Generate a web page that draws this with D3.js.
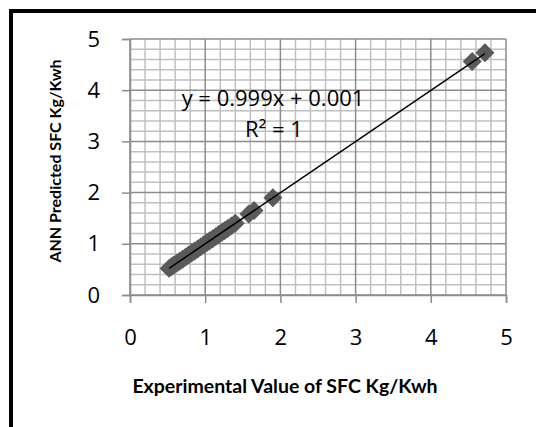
<!DOCTYPE html>
<html>
<head>
<meta charset="utf-8">
<script src="https://cdn.jsdelivr.net/npm/d3@7"></script>
<style>
body { margin: 0; background: #fff; }
</style>
</head>
<body>
<div id="chart"></div>
<script>
// data
var experimental = [0.52, 0.55, 0.58, 0.62, 0.66, 0.70, 0.74, 0.78, 0.82, 0.86, 0.90, 0.94, 0.98, 1.02, 1.06, 1.10, 1.14, 1.18, 1.22, 1.26, 1.30, 1.35, 1.40, 1.58, 1.65, 1.90, 4.55, 4.72];
var predicted    = [0.52, 0.55, 0.58, 0.62, 0.66, 0.70, 0.74, 0.78, 0.82, 0.86, 0.90, 0.94, 0.98, 1.02, 1.06, 1.10, 1.14, 1.18, 1.22, 1.26, 1.30, 1.35, 1.40, 1.58, 1.65, 1.90, 4.56, 4.73];
var xTicks = [0, 1, 2, 3, 4, 5];
var yTicks = [0, 1, 2, 3, 4, 5];
var slope = 0.999;
var intercept = 0.001;

var width = 536;
var height = 427;

var svg = d3.select("#chart")
    .append("svg")
    .attr("width", width)
    .attr("height", height);

// outer frame (only top and left edges visible)
svg.append("rect")
    .attr("x", 11)
    .attr("y", 11)
    .attr("width", 700)
    .attr("height", 700)
    .attr("fill", "none")
    .attr("stroke", "#000")
    .attr("stroke-width", 4);

var x = d3.scaleLinear().domain([0, 5]).range([130, 506]);
var y = d3.scaleLinear().domain([0, 5]).range([295, 39]);

var minor = d3.range(0, 5.01, 0.2).map(function (d) { return Math.round(d * 10) / 10; });

// minor grid
var grid = svg.append("g");
grid.selectAll(".vminor")
    .data(minor.filter(function (d) { return d % 1 != 0; }))
    .enter()
    .append("line")
    .attr("x1", function (d) { return x(d); })
    .attr("x2", function (d) { return x(d); })
    .attr("y1", y(0))
    .attr("y2", y(5))
    .attr("stroke", "#c0c0c0")
    .attr("stroke-width", 1.5);
grid.selectAll(".hminor")
    .data(minor.filter(function (d) { return d % 1 != 0; }))
    .enter()
    .append("line")
    .attr("y1", function (d) { return y(d); })
    .attr("y2", function (d) { return y(d); })
    .attr("x1", x(0))
    .attr("x2", x(5))
    .attr("stroke", "#c0c0c0")
    .attr("stroke-width", 1.5);

// major grid
grid.selectAll(".vmajor")
    .data(xTicks)
    .enter()
    .append("line")
    .attr("x1", function (d) { return x(d); })
    .attr("x2", function (d) { return x(d); })
    .attr("y1", y(0))
    .attr("y2", y(5))
    .attr("stroke", "#8c8c8c")
    .attr("stroke-width", 1.5);
grid.selectAll(".hmajor")
    .data(yTicks)
    .enter()
    .append("line")
    .attr("y1", function (d) { return y(d); })
    .attr("y2", function (d) { return y(d); })
    .attr("x1", x(0))
    .attr("x2", x(5))
    .attr("stroke", "#8c8c8c")
    .attr("stroke-width", 1.5);

// axes
var xAxis = svg.append("g")
    .attr("transform", "translate(0," + y(0) + ")")
    .call(d3.axisBottom(x).tickValues(xTicks).tickFormat(d3.format("d")).tickSize(8).tickPadding(26));
var yAxis = svg.append("g")
    .attr("transform", "translate(" + x(0) + ",0)")
    .call(d3.axisLeft(y).tickValues(yTicks).tickFormat(d3.format("d")).tickSize(8).tickPadding(22));

[xAxis, yAxis].forEach(function (a) {
    a.select(".domain").attr("stroke", "#8c8c8c").attr("stroke-width", 1.5);
    a.selectAll(".tick line").attr("stroke", "#8c8c8c").attr("stroke-width", 1.5);
    a.selectAll("text")
        .attr("fill", "#000")
        .style("font-family", "'Open Sans', sans-serif")
        .style("font-size", "22px");
});

// points
var pts = experimental.map(function (d, i) { return [d, predicted[i]]; });
svg.append("g")
    .selectAll("path")
    .data(pts)
    .enter()
    .append("path")
    .attr("d", d3.symbol().type(d3.symbolSquare).size(180))
    .attr("transform", function (d) {
        return "translate(" + x(d[0]) + "," + y(d[1]) + ") rotate(45)";
    })
    .attr("fill", "#5a5a5a");

// trendline
var xr = d3.extent(experimental);
svg.append("line")
    .attr("x1", x(xr[0]))
    .attr("y1", y(slope * xr[0] + intercept))
    .attr("x2", x(xr[1]))
    .attr("y2", y(slope * xr[1] + intercept))
    .attr("stroke", "#000")
    .attr("stroke-width", 1.5);

// equation
svg.append("text")
    .attr("x", 273)
    .attr("y", 106)
    .attr("text-anchor", "middle")
    .style("font-family", "'Open Sans', sans-serif")
    .style("font-size", "22px")
    .text("y = 0.999x + 0.001");
svg.append("text")
    .attr("x", 274)
    .attr("y", 137)
    .attr("text-anchor", "middle")
    .style("font-family", "'Open Sans', sans-serif")
    .style("font-size", "22px")
    .text("R² = 1");

// axis titles
svg.append("text")
    .attr("x", 285)
    .attr("y", 393)
    .attr("text-anchor", "middle")
    .style("font-family", "Lato, sans-serif")
    .style("font-weight", 700)
    .style("font-size", "19.5px")
    .text("Experimental Value of SFC Kg/Kwh");
svg.append("text")
    .attr("transform", "translate(61,161) rotate(-90)")
    .attr("text-anchor", "middle")
    .style("font-family", "Lato, sans-serif")
    .style("font-weight", 700)
    .style("font-size", "16px")
    .text("ANN Predicted SFC Kg/Kwh");
</script>
</body>
</html>
